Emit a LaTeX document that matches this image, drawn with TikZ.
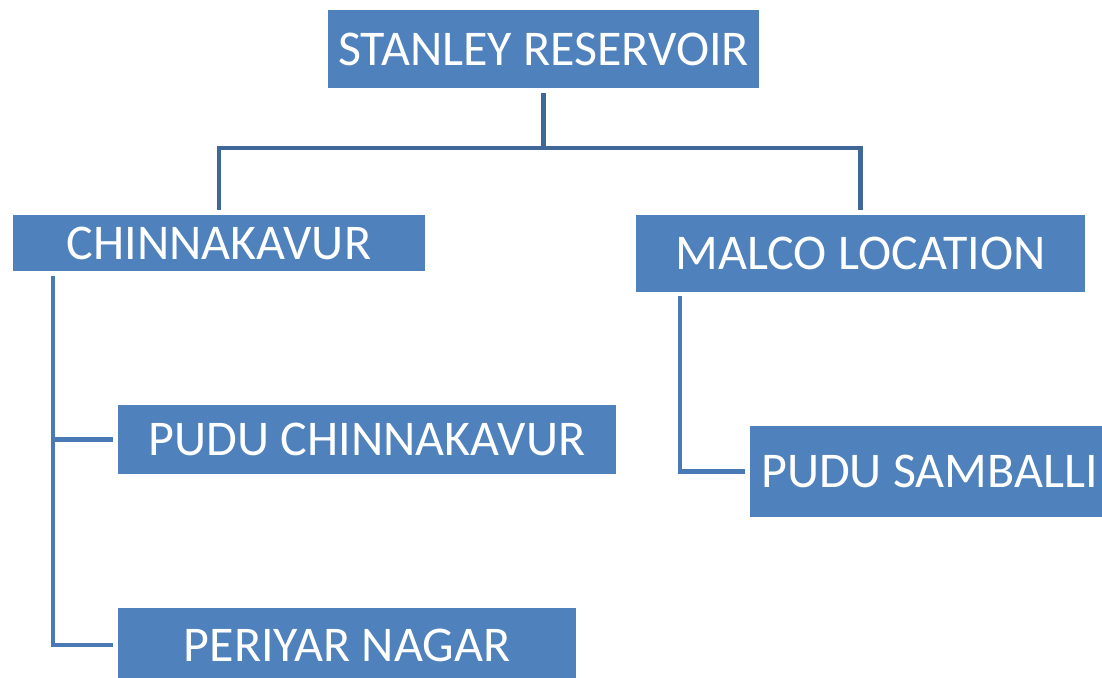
\documentclass[tikz,border=0pt]{standalone}
\usepackage{fontspec}
\setmainfont{Carlito}
\definecolor{boxblue}{HTML}{4F81BD}
\definecolor{topline}{HTML}{3F6797}
\definecolor{lowline}{HTML}{4A7AB6}
\begin{document}
\begin{tikzpicture}[x=1pt,y=-1pt,
  box/.style={fill=boxblue,draw=none,inner sep=0pt,text=white,
    font=\fontsize{50}{60}\selectfont},
  conn/.style={draw=topline,line width=4.5pt},
  lconn/.style={draw=lowline,line width=4.5pt}]
\useasboundingbox (0,0) rectangle (1102,677);
\clip (0,0) rectangle (1102,677);
\fill[white] (0,0) rectangle (1102,677);
\node[box,minimum width=431pt,minimum height=78pt] (top) at (543.5,49) {STANLEY RESERVOIR};
\node[box,minimum width=412pt,minimum height=56pt] (chin) at (219,243) {CHINNAKAVUR};
\node[box,minimum width=449pt,minimum height=77pt] (malco) at (860.5,253.5) {MALCO LOCATION};
\node[box,minimum width=498pt,minimum height=69pt] (pudc) at (367,439.5) {PUDU CHINNAKAVUR};
\node[box,minimum width=359pt,minimum height=91pt] (psam) at (929.5,471.5) {PUDU SAMBALLI};
\node[box,minimum width=458pt,minimum height=74pt] (peri) at (347,645) {PERIYAR NAGAR};
\coordinate (bus) at (543.5,148);
\draw[conn] ([yshift=-5pt]top.south) -- (bus);
\draw[conn] ([yshift=5pt]chin.north) |- (bus) -| ([yshift=5pt]malco.north);
\coordinate (lv) at ([shift={(40,5)}]chin.south west);
\draw[lconn] (lv) |- ([xshift=-5pt]peri.west);
\draw[lconn] ([xshift=-5pt]pudc.west) -- (lv |- pudc.west);
\draw[lconn] ([shift={(44,4)}]malco.south west) |- ([xshift=-5pt]psam.west);
\end{tikzpicture}
\end{document}
